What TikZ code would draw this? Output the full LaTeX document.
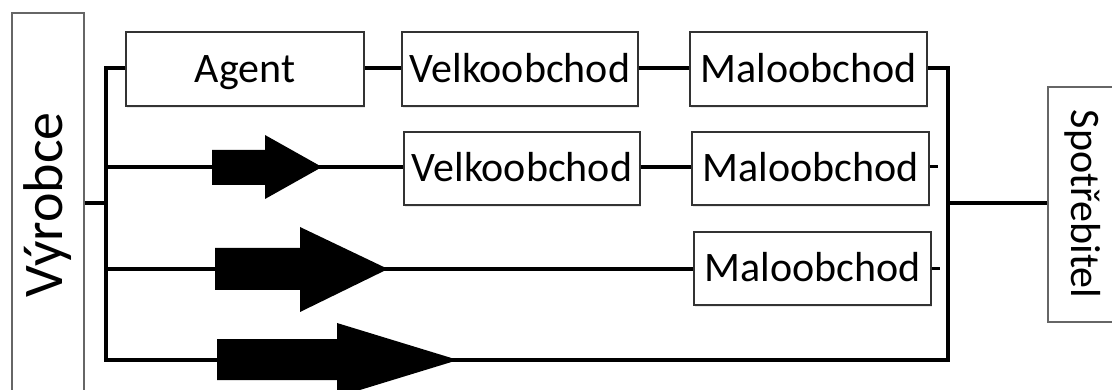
\documentclass[tikz,border=0pt]{standalone}
\usepackage{fontspec}
\setmainfont{Carlito}
\usetikzlibrary{shadows}
\tikzset{
  box/.style={draw=black!80, line width=1.6pt, fill=white, inner sep=0pt,
    font=\fontsize{42}{48}\selectfont, text height=27pt, text depth=0pt,
    drop shadow={opacity=0.18, shadow xshift=1.2pt, shadow yshift=-1.8pt}},
  endbox/.style={draw=black!60, line width=1.4pt, fill=white, inner sep=0pt},
  conn/.style={line width=4pt, black},
  blockarrow/.style={fill=black}
}
\begin{document}
\begin{tikzpicture}[x=1pt,y=-1pt]
\useasboundingbox (0,0) rectangle (1112,390);
\clip (0,0) rectangle (1112,390);

% spine junctions
\coordinate (lt) at (106,68);
\coordinate (lmid) at (106,203);
\coordinate (l2) at (106,167);
\coordinate (l3) at (106,269);
\coordinate (lb) at (106,360);
\coordinate (rt) at (948,68);
\coordinate (rmid) at (948,203);
\coordinate (rb) at (948,362);

% end boxes
\node[endbox, minimum width=72pt, minimum height=380pt] (vyr) at (48,203) {};
\node[rotate=90, font=\fontsize{56}{60}\selectfont] at (48,205) {Výrobce};
\node[endbox, minimum width=72pt, minimum height=235pt] (spot) at (1084,204.5) {};
\node[rotate=-90, font=\fontsize{42}{48}\selectfont] at (1083,204) {Spotřebitel};

% channel boxes
\node[box, minimum width=238pt, minimum height=74pt] (agent) at (245,69) {Agent};
\node[box, minimum width=236pt, minimum height=74pt] (velko1) at (520,69) {Velkoobchod};
\node[box, minimum width=237pt, minimum height=74pt] (malo1) at (808.5,69) {Maloobchod};
\node[box, minimum width=236pt, minimum height=73pt] (velko2) at (522,168.5) {Velkoobchod};
\node[box, minimum width=237pt, minimum height=73pt] (malo2) at (810.5,168.5) {Maloobchod};
\node[box, minimum width=237pt, minimum height=73pt] (malo3) at (812.5,268.5) {Maloobchod};

% connectors
\draw[conn] (vyr.east |- lmid) -- (lmid);
\draw[conn] (agent.west |- lt) -- (lt) -- (lb) -- (rb |- lb);
\draw[conn] (agent.east |- lt) -- (velko1.west |- lt);
\draw[conn] (velko1.east |- lt) -- (malo1.west |- lt);
\draw[conn] (malo1.east |- rt) -- (rt) -- (rb);
\draw[conn] (l2) -- (velko2.west |- l2);
\draw[conn] (velko2.east |- l2) -- (malo2.west |- l2);
\draw[conn] (l3) -- (malo3.west |- l3);
\draw[line width=3pt] (malo2.east |- l2) -- ++(8,0);
\draw[line width=3pt] (malo3.east |- l3) -- ++(8,0);
\draw[conn] (rmid) -- (spot.west |- rmid);

% block arrows on the direct lines
\fill[blockarrow] (212,150) -- (265,150) -- (265,135) -- (322,167)
  -- (265,199) -- (265,185) -- (212,185) -- cycle;
\fill[blockarrow] (215,248) -- (300,248) -- (300,227) -- (388,269)
  -- (300,312) -- (300,290) -- (215,290) -- cycle;
\fill[blockarrow] (217,339) -- (337,339) -- (337,323) -- (458,360)
  -- (337,397) -- (337,380) -- (217,380) -- cycle;
\end{tikzpicture}
\end{document}
